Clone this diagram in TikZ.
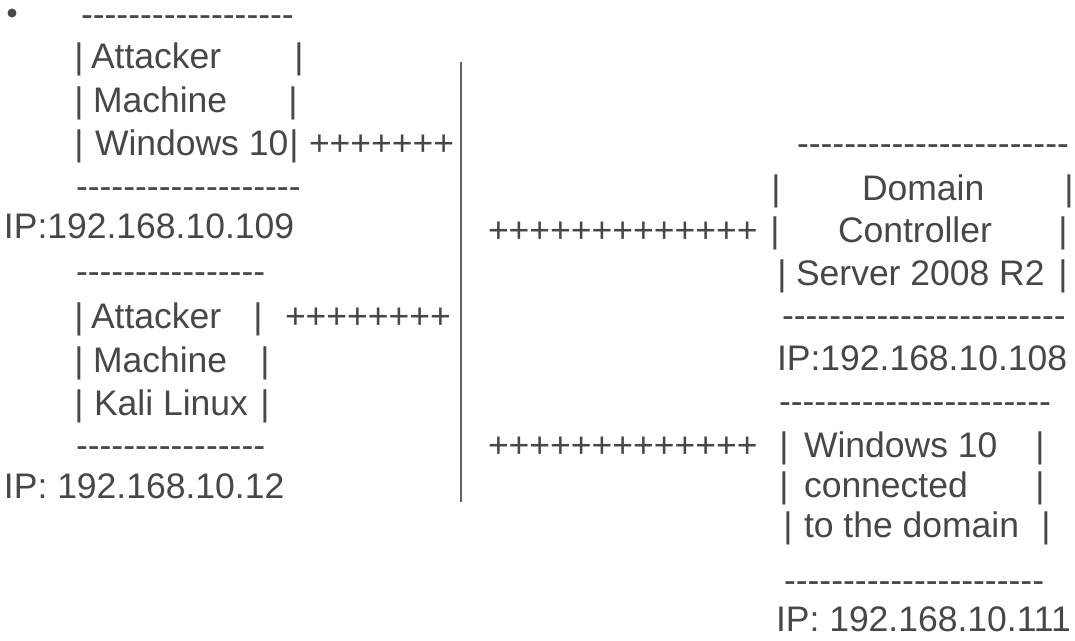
\documentclass[tikz,border=0pt]{standalone}
\usepackage{fontspec}
\setmainfont{Liberation Sans}
\definecolor{ink}{HTML}{474747}
\newcommand\hy[1]{\foreach\k in {1,...,#1}{-\kern0pt}}
\tikzset{
  txt/.style={anchor=base west, inner sep=0pt, outer sep=0pt, text=ink, font=\fontsize{35.5}{40}\selectfont},
  barc/.style={anchor=base, inner sep=0pt, outer sep=0pt, text=ink, font=\fontsize{35.5}{40}\selectfont},
  wire/.style={draw=ink!85, line width=1.6pt}
}
\begin{document}
\begin{tikzpicture}[x=1pt,y=-1pt]
\useasboundingbox (0,0) rectangle (1075,640);
% bullet
\fill[ink] (12,13) circle (4.5);
% ---------- left: Windows 10 attacker
\node[txt] (t1) at (81,26) {\hy{18}};
\node[barc] (a1l) at (79,68) {|};
\node[txt] (a1) at (91,68) {Attacker};
\node[barc] (a1r) at (299,68) {|};
\node[barc] (m1l) at (79,112) {|};
\node[txt] (m1) at (93,112) {Machine};
\node[barc] (m1r) at (293,112) {|};
\node[barc] (w1l) at (79,155) {|};
\node[txt] (w1) at (95,155) {Windows 10};
\node[barc] (w1r) at (294,155) {|};
\node[txt] (p1) at (309,155) {+++++++};
\node[txt] (b1) at (76,198) {\hy{19}};
\node[txt] (ip1) at (4,238) {IP:192.168.10.109};
% ---------- left: Kali attacker
\node[txt] (t2) at (76,283) {\hy{16}};
\node[barc] (a2l) at (79,328) {|};
\node[txt] (a2) at (91,328) {Attacker};
\node[barc] (a2r) at (258,328) {|};
\node[txt] (p2) at (285,328) {++++++++};
\node[barc] (m2l) at (79,372) {|};
\node[txt] (m2) at (93,372) {Machine};
\node[barc] (m2r) at (265,372) {|};
\node[barc] (k2l) at (79,415) {|};
\node[txt] (k2) at (94,415) {Kali Linux};
\node[barc] (k2r) at (265,415) {|};
\node[txt] (b2) at (76,457) {\hy{16}};
\node[txt] (ip2) at (4,498) {IP: 192.168.10.12};
% ---------- central bus
\coordinate (bustop) at (461,62);
\coordinate (busbot) at (461,502);
\draw[wire] (bustop) -- (busbot);
% ---------- right: domain controller
\node[txt] (t3) at (797,155) {\hy{23}};
\node[barc] (d3l) at (776,200) {|};
\node[txt] (d3) at (862,200) {Domain};
\node[barc] (d3r) at (1069,200) {|};
\node[txt] (p3) at (488,242) {+++++++++++++};
\node[barc] (c3l) at (775,242) {|};
\node[txt] (c3) at (838,242) {Controller};
\node[barc] (c3r) at (1063,242) {|};
\node[barc] (s3l) at (782,285) {|};
\node[txt] (s3) at (796,285) {Server 2008 R2};
\node[barc] (s3r) at (1063,285) {|};
\node[txt] (b3) at (782,327) {\hy{24}};
\node[txt] (ip3) at (777,370) {IP:192.168.10.108};
% ---------- right: domain client
\node[txt] (t4) at (779,413) {\hy{23}};
\node[txt] (p4) at (488,457) {+++++++++++++};
\node[barc] (w4l) at (784,457) {|};
\node[txt] (w4) at (804,457) {Windows 10};
\node[barc] (w4r) at (1040,457) {|};
\node[barc] (n4l) at (784,497) {|};
\node[txt] (n4) at (804,497) {connected};
\node[barc] (n4r) at (1040,497) {|};
\node[barc] (o4l) at (788,537) {|};
\node[txt] (o4) at (804,537) {to the domain};
\node[barc] (o4r) at (1046,537) {|};
\node[txt] (b4) at (784,592) {\hy{22}};
\node[txt] (ip4) at (776,631) {IP: 192.168.10.111};
\end{tikzpicture}
\end{document}
